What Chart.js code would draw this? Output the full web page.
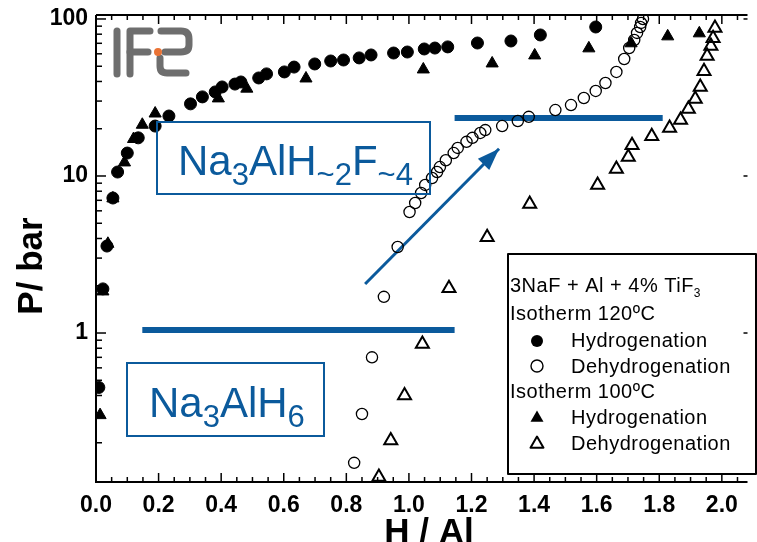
<!DOCTYPE html>
<html>
<head>
<meta charset="utf-8">
<script src="https://cdn.jsdelivr.net/npm/chart.js@4.4.1/dist/chart.umd.min.js"></script>
<style>
html, body { margin: 0; padding: 0; background: #fff; }
#wrap { width: 757px; height: 542px; }
</style>
</head>
<body>
<div id="wrap"><canvas id="chart"></canvas></div>
<script>
// isotherm 120C, hydrogenation (filled circles)  H/Al , P (bar)
const h120X = [0.009,0.022,0.035,0.054,0.069,0.10,0.135,0.189,0.233,0.302,0.340,0.381,0.403,0.444,0.463,0.520,0.545,0.602,0.633,0.699,0.750,0.791,0.841,0.879,0.951,0.995,1.049,1.083,1.124,1.219,1.326,1.420,1.597];
const h120P = [0.45,1.91,3.58,7.24,10.6,14.0,17.5,20.8,24.1,28.8,31.9,34.3,36.9,38.5,39.7,42.1,44.7,46.0,49.4,51.7,54.0,54.8,56.5,59.0,60.7,61.6,64.4,65.3,66.4,70.3,72.4,79.1,88.9];

// isotherm 120C, dehydrogenation (open circles)
const d120X = [0.825,0.850,0.882,0.920,0.964,1.002,1.020,1.039,1.052,1.074,1.090,1.099,1.118,1.143,1.156,1.184,1.203,1.228,1.244,1.298,1.348,1.383,1.468,1.518,1.559,1.597,1.628,1.663,1.688,1.704,1.720,1.729,1.739,1.742,1.748];
const d120P = [0.149,0.305,0.70,1.70,3.53,5.9,6.73,7.79,8.77,9.71,10.6,11.4,12.6,14.0,15.1,16.5,17.5,18.8,19.6,20.8,22.4,23.8,26.3,28.3,31.4,34.8,39.1,46.0,55.6,65.3,73.5,81.5,88.9,94.4,100];

// isotherm 100C, hydrogenation (filled triangles)
const h100X = [0.013,0.022,0.038,0.054,0.091,0.12,0.148,0.189,0.391,0.482,0.671,1.046,1.266,1.402,1.575,1.710,1.827,1.928];
const h100P = [0.30,1.84,3.7,7.2,12.2,17.2,21.2,25.0,31.2,36.0,41.8,47.7,52.1,58.6,65.0,70.0,77.5,81.0];

// isotherm 100C, dehydrogenation (open triangles)
const d100X = [0.904,0.942,0.986,1.043,1.128,1.250,1.386,1.603,1.663,1.701,1.713,1.776,1.833,1.868,1.893,1.915,1.931,1.943,1.953,1.965,1.972,1.978];
const d100P = [0.121,0.207,0.40,0.85,1.93,4.08,6.62,8.75,11.1,13.2,15.7,17.9,20.2,22.7,26.7,30.9,36.9,46.5,58.0,67.2,75.5,87.5];

// plateau lines and arrow
const plateauHighX = [1.146, 1.811];
const plateauHighP = [23.4, 23.4];
const plateauLowX = [0.148, 1.146];
const plateauLowP = [1.045, 1.045];
const arrowX = [0.860, 1.288];
const arrowP = [2.05, 14.9];

const yLabels = [1, 10, 100];
const xMin = 0, xMax = 2.082, yMin = 0.1125, yMax = 106;

const blue = '#0b5a9c';
const FONT = '"Liberation Sans", Arial, sans-serif';

function pts(xs, ps) {
    return xs.map((v, i) => ({x: v, y: ps[i]}));
}

function line(ctx, x1, y1, x2, y2) {
    ctx.beginPath();
    ctx.moveTo(x1, y1);
    ctx.lineTo(x2, y2);
    ctx.stroke();
}

// text with subscripts: runs = [[text, isSub], ...]
function subText(ctx, runs, x, y, size, subSize, drop) {
    for (const [t, sub] of runs) {
        ctx.font = (sub ? subSize : size) + 'px ' + FONT;
        ctx.fillText(t, x, y + (sub ? drop : 0));
        x += ctx.measureText(t).width;
    }
}

function marker(ctx, kind, x, y) {
    ctx.save();
    ctx.fillStyle = '#000';
    ctx.strokeStyle = '#000';
    if (kind == 'dot' || kind == 'ring') {
        ctx.beginPath();
        ctx.arc(x, y, 6, 0, Math.PI * 2);
        if (kind == 'dot') ctx.fill(); else { ctx.lineWidth = 1.4; ctx.stroke(); }
    } else {
        const r = 7.5;
        ctx.beginPath();
        ctx.moveTo(x, y - r);
        ctx.lineTo(x + r * 0.866, y + r / 2);
        ctx.lineTo(x - r * 0.866, y + r / 2);
        ctx.closePath();
        if (kind == 'tri') ctx.fill(); else { ctx.lineWidth = 2; ctx.stroke(); }
    }
    ctx.restore();
}

const decor = {
    id: 'decor',
    afterDatasetsDraw(chart) {
        const ctx = chart.ctx;
        const xs = chart.scales.x, ys = chart.scales.y;
        ctx.save();

        // arrow head at end of the arrow line
        const x1 = xs.getPixelForValue(arrowX[0]), y1 = ys.getPixelForValue(arrowP[0]);
        const x2 = xs.getPixelForValue(arrowX[1]), y2 = ys.getPixelForValue(arrowP[1]);
        const ang = Math.atan2(y2 - y1, x2 - x1);
        ctx.fillStyle = blue;
        ctx.beginPath();
        ctx.moveTo(x2, y2);
        ctx.lineTo(x2 - 22 * Math.cos(ang) + 8 * Math.sin(ang), y2 - 22 * Math.sin(ang) - 8 * Math.cos(ang));
        ctx.lineTo(x2 - 22 * Math.cos(ang) - 8 * Math.sin(ang), y2 - 22 * Math.sin(ang) + 8 * Math.cos(ang));
        ctx.closePath();
        ctx.fill();

        // phase boxes
        ctx.strokeStyle = blue;
        ctx.lineWidth = 2;
        ctx.strokeRect(157, 122, 273, 72);
        ctx.strokeRect(127, 363, 197, 73);
        ctx.fillStyle = blue;
        ctx.textBaseline = 'alphabetic';
        ctx.textAlign = 'left';
        subText(ctx, [['Na', 0], ['3', 1], ['AlH', 0], ['~2', 1], ['F', 0], ['~4', 1]], 178, 175, 42, 31, 10);
        subText(ctx, [['Na', 0], ['3', 1], ['AlH', 0], ['6', 1]], 149, 417, 42, 31, 10);

        // IFE logo
        ctx.strokeStyle = '#6e6e6e';
        ctx.lineWidth = 7;
        ctx.lineCap = 'round';
        ctx.lineJoin = 'round';
        line(ctx, 117, 31, 117, 74);
        ctx.beginPath();
        ctx.moveTo(130, 74); ctx.lineTo(130, 31); ctx.lineTo(150, 31);
        ctx.stroke();
        line(ctx, 130, 52, 148, 52);
        ctx.beginPath();
        ctx.moveTo(161, 31); ctx.lineTo(181, 31);
        ctx.quadraticCurveTo(189, 31, 189, 39);
        ctx.lineTo(189, 45);
        ctx.quadraticCurveTo(189, 52, 181, 52);
        ctx.lineTo(165, 52);
        ctx.stroke();
        ctx.beginPath();
        ctx.moveTo(160, 58); ctx.lineTo(160, 66);
        ctx.quadraticCurveTo(160, 73, 167, 73);
        ctx.lineTo(186, 73);
        ctx.stroke();
        ctx.fillStyle = '#ea7335';
        ctx.beginPath();
        ctx.arc(158, 52, 4, 0, Math.PI * 2);
        ctx.fill();
        ctx.lineCap = 'butt';

        // legend box
        ctx.fillStyle = '#fff';
        ctx.fillRect(508, 254, 248, 220);
        ctx.strokeStyle = '#000';
        ctx.lineWidth = 2;
        ctx.strokeRect(508, 254, 248, 220);
        ctx.fillStyle = '#000';
        ctx.letterSpacing = '0.5px';
        subText(ctx, [['3NaF + Al + 4% TiF', 0], ['3', 1]], 510, 292, 20, 12, 5);
        ctx.font = '20px ' + FONT;
        ctx.fillText('Isotherm 120ºC', 510, 320);
        ctx.fillText('Hydrogenation', 571, 347);
        ctx.fillText('Dehydrogenation', 571, 373);
        ctx.fillText('Isotherm 100ºC', 510, 398);
        ctx.fillText('Hydrogenation', 571, 424);
        ctx.fillText('Dehydrogenation', 571, 450);
        ctx.letterSpacing = '0px';
        marker(ctx, 'dot', 537, 341);
        marker(ctx, 'ring', 537, 366);
        marker(ctx, 'tri', 537, 418);
        marker(ctx, 'opentri', 537, 444);

        ctx.restore();
    },
    afterDraw(chart) {
        const ctx = chart.ctx;
        const a = chart.chartArea;
        const xs = chart.scales.x, ys = chart.scales.y;
        ctx.save();
        ctx.strokeStyle = '#000';
        ctx.lineWidth = 2;
        ctx.beginPath();
        ctx.moveTo(a.left, a.top); ctx.lineTo(a.right, a.top);
        ctx.moveTo(a.left, a.top); ctx.lineTo(a.left, a.bottom); ctx.lineTo(a.right, a.bottom);
        ctx.stroke();

        // inward ticks, every 0.05 on x, 1..9 per decade on y
        ctx.lineWidth = 1.5;
        for (let i = 0; i * 0.05 <= xMax; i++) {
            const px = xs.getPixelForValue(i * 0.05);
            const len = i % 4 == 0 ? 9 : 5;
            line(ctx, px, a.bottom, px, a.bottom - len);
            line(ctx, px, a.top, px, a.top + len);
        }
        for (let e = -1; e <= 2; e++) {
            for (let m = 1; m <= 9; m++) {
                const v = m * Math.pow(10, e);
                if (v < yMin || v > yMax) continue;
                const py = ys.getPixelForValue(v);
                line(ctx, a.left, py, a.left + (m == 1 ? 10 : 6), py);
                if (m == 1) line(ctx, a.right, py, a.right - 4, py);
            }
        }

        // axis titles
        ctx.fillStyle = '#000';
        ctx.font = 'bold 35px ' + FONT;
        ctx.textAlign = 'center';
        ctx.textBaseline = 'alphabetic';
        ctx.fillText('H / Al', 429, 543);
        ctx.translate(42, 266);
        ctx.rotate(-Math.PI / 2);
        ctx.fillText('P/ bar', 0, 0);
        ctx.restore();
    }
};

const ctx = document.getElementById('chart').getContext('2d');
const myChart = new Chart(ctx, {
    type: 'scatter',
    data: {
        datasets: [{
            label: 'Hydrogenation 120',
            data: pts(h120X, h120P),
            pointStyle: 'circle',
            pointRadius: 6,
            backgroundColor: '#000',
            borderColor: '#000',
            borderWidth: 1
        }, {
            label: 'Hydrogenation 100',
            data: pts(h100X, h100P),
            pointStyle: 'triangle',
            pointRadius: 7,
            backgroundColor: '#000',
            borderColor: '#000',
            borderWidth: 1
        }, {
            label: 'Dehydrogenation 120',
            data: pts(d120X, d120P),
            pointStyle: 'circle',
            pointRadius: 5.6,
            backgroundColor: 'rgba(0,0,0,0)',
            borderColor: '#000',
            borderWidth: 1.3
        }, {
            label: 'Dehydrogenation 100',
            data: pts(d100X, d100P),
            pointStyle: 'triangle',
            pointRadius: 7.5,
            backgroundColor: 'rgba(0,0,0,0)',
            borderColor: '#000',
            borderWidth: 2
        }, {
            label: 'arrow',
            data: pts(arrowX, arrowP),
            showLine: true,
            pointRadius: 0,
            borderColor: blue,
            borderWidth: 3
        }, {
            label: 'plateau high',
            data: pts(plateauHighX, plateauHighP),
            showLine: true,
            pointRadius: 0,
            borderColor: blue,
            borderWidth: 6
        }, {
            label: 'plateau low',
            data: pts(plateauLowX, plateauLowP),
            showLine: true,
            pointRadius: 0,
            borderColor: blue,
            borderWidth: 6
        }]
    },
    options: {
        responsive: true,
        maintainAspectRatio: false,
        animation: false,
        events: [],
        layout: { padding: { top: 15, right: 0, left: 0, bottom: 0 } },
        plugins: { legend: { display: false }, tooltip: { enabled: false } },
        scales: {
            x: {
                type: 'linear',
                min: xMin,
                max: xMax,
                grid: { display: false },
                border: { display: false },
                ticks: {
                    stepSize: 0.2,
                    includeBounds: false,
                    autoSkip: false,
                    maxRotation: 0,
                    padding: 2,
                    color: '#000',
                    font: { family: 'Liberation Sans', size: 23, weight: 'bold' },
                    callback: v => v.toFixed(1)
                },
                afterFit: s => { s.height = 60; }
            },
            y: {
                type: 'logarithmic',
                min: yMin,
                max: yMax,
                grid: { display: false },
                border: { display: false },
                ticks: {
                    autoSkip: false,
                    padding: 0,
                    color: '#000',
                    font: { family: 'Liberation Sans', size: 23, weight: 'bold' },
                    callback: v => yLabels.some(l => Math.abs(l - v) < 1e-6 * l) ? String(Math.round(v)) : ''
                },
                afterFit: s => { s.width = 96; }
            }
        }
    },
    plugins: [decor]
});
</script>
</body>
</html>
